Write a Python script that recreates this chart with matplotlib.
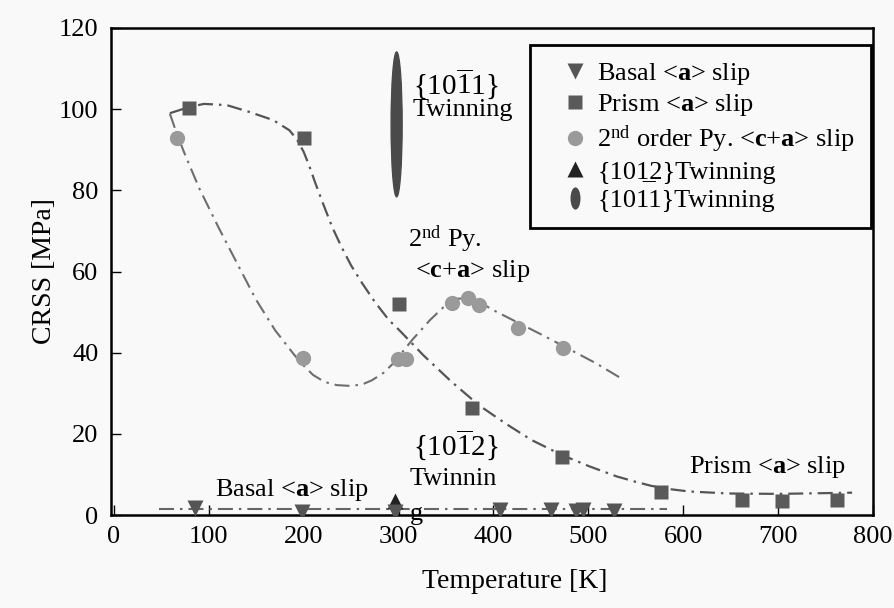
import numpy as np
import matplotlib
matplotlib.use('Agg')
import matplotlib.pyplot as plt
from matplotlib.lines import Line2D
from matplotlib.patches import Ellipse
from matplotlib.path import Path
from matplotlib.transforms import Affine2D

plt.rcParams['font.family'] = ['Liberation Serif', 'DejaVu Serif']
plt.rcParams['mathtext.fontset'] = 'custom'
plt.rcParams['mathtext.rm'] = 'Liberation Serif'
plt.rcParams['mathtext.bf'] = 'Liberation Serif:bold'
plt.rcParams['mathtext.it'] = 'Liberation Serif:italic'
plt.rcParams['lines.scale_dashes'] = False

# ---------------- data ----------------
basal_T = [85, 198, 296, 407, 461, 487, 494, 527]
basal_v = [1.8, 0.8, 0.8, 1.2, 1.2, 1.0, 1.2, 1.0]

prism_T = [79, 200, 300, 377, 472, 577, 662, 704, 762]
prism_v = [100.2, 93.0, 52.0, 26.4, 14.3, 5.7, 3.8, 3.5, 3.6]

pyr_T = [67, 199, 299, 308, 356, 373, 385, 426, 473]
pyr_v = [92.8, 38.7, 38.4, 38.4, 52.2, 53.4, 51.7, 46.0, 41.1]

twin1012_T = [296]
twin1012_v = [3.5]

twin1011_T = 298
twin1011_lo = 78.4
twin1011_hi = 114.1

# trend curves
prism_fit_T = [59, 79, 95, 119, 143, 168, 185, 193, 200, 206, 212, 220, 230, 240, 250, 262,
               275, 290, 301, 326, 356, 385, 413, 440, 472, 501, 530, 548, 566, 585, 606,
               648, 700, 778]
prism_fit_v = [99, 100.5, 101.3, 101, 99.3, 97.3, 94.8, 92.5, 89.5, 86, 82, 77, 71, 66, 61.5,
               57, 52.5, 48, 45.5, 39.4, 32.8, 27, 22.5, 18.5, 14.8, 12, 9.5, 8.3, 7.2, 6.4,
               5.8, 5.3, 5.2, 5.5]

pyr_fit_T = [59, 67, 75, 90, 110, 131, 150, 170, 190, 200, 210, 222, 235, 250, 262, 272,
             284, 295, 315, 333, 350, 362, 375, 390, 403, 452, 508, 533]
pyr_fit_v = [98.9, 93.5, 88.8, 80.5, 71, 61.5, 53, 45.5, 39.5, 36.8, 34.5, 32.8, 32, 31.8,
             32.2, 33.2, 35, 37.5, 43.3, 48, 51.8, 53.3, 53.4, 51.8, 50.1, 44.3, 37.4, 33.9]

basal_fit_T = [48, 583]
basal_fit_v = [1.5, 1.5]

x_ticks = [0, 100, 200, 300, 400, 500, 600, 700, 800]
y_ticks = [0, 20, 40, 60, 80, 100, 120]

# ---------------- figure ----------------
BG = '#f9f9f9'
fig = plt.figure(figsize=(8.95, 6.08), dpi=100, facecolor=BG)
ax = fig.add_axes([111/895, 1-515/608, (873-111)/895, (515-28)/608])
ax.set_facecolor(BG)

dash = (0, (10.8, 4.3, 1.8, 4.3))
ax.plot(prism_fit_T, prism_fit_v, color='#555555', lw=1.6, ls=dash, zorder=2)
ax.plot(pyr_fit_T, pyr_fit_v, color='#6e6e6e', lw=1.5, ls=dash, zorder=2)
ax.plot(basal_fit_T, basal_fit_v, color='#666666', lw=1.5, ls=dash, zorder=2)

ax.plot(pyr_T, pyr_v, 'o', color='#9a9a9a', ms=11, mec='none', zorder=3)
ax.plot(prism_T, prism_v, 's', color='#5a5a5a', ms=10, mec='none', zorder=3)
ax.plot(twin1012_T, twin1012_v, '^', color='#222222', ms=11, mec='none', zorder=3)
ax.plot(basal_T, basal_v, 'v', color='#555555', ms=11, mec='none', zorder=4)

ell = Ellipse((twin1011_T, (twin1011_lo + twin1011_hi) / 2), width=11.6,
              height=twin1011_hi - twin1011_lo, color='#4a4a4a', zorder=3)
ax.add_patch(ell)

ax.set_xlim(-3, 800)
ax.set_ylim(0, 120)
ax.set_xticks(x_ticks)
ax.set_yticks(y_ticks)
ax.tick_params(direction='in', length=7, width=1, labelsize=19, pad=8)
ax.tick_params(axis='y', pad=9)
for s in ax.spines.values():
    s.set_linewidth(1.8)
    s.set_color('black')

ax.set_xlabel('Temperature [K]', fontsize=20)
ax.xaxis.set_label_coords((515 - 111) / 762, (515 - 569) / 487)
ax.set_ylabel('CRSS [MPa]', fontsize=20)
ax.yaxis.set_label_coords((57 - 111) / 762, 0.5)

fs = 19
ax.text(315, 103.8, r'$\{10\overline{1}1\}$', fontsize=21, va='baseline', ha='left')
ax.text(315, 98.3, 'Twinning', fontsize=fs, va='baseline', ha='left')
ax.text(309.5, 66.1, r'2$^{\mathrm{nd}}$ Py.', fontsize=fs, va='baseline', ha='left')
ax.text(317, 58.7, r'<$\mathbf{c}$+$\mathbf{a}$> slip', fontsize=fs, va='baseline', ha='left')
ax.text(315, 14.8, r'$\{10\overline{1}2\}$', fontsize=21, va='baseline', ha='left')
ax.text(311.6, 7.4, 'Twinnin', fontsize=fs, va='baseline', ha='left')
ax.text(311.6, -1.2, 'g', fontsize=fs, va='baseline', ha='left', zorder=5)
ax.text(106.3, 4.7, r'Basal <$\mathbf{a}$> slip', fontsize=fs, va='baseline', ha='left')
ax.text(605.6, 10.3, r'Prism <$\mathbf{a}$> slip', fontsize=fs, va='baseline', ha='left')

# legend
ell_path = Path.unit_circle().transformed(Affine2D().scale(0.45, 1.0))
handles = [
    Line2D([], [], ls='none', marker='v', color='#555555', ms=12, mec='none'),
    Line2D([], [], ls='none', marker='s', color='#5a5a5a', ms=10, mec='none'),
    Line2D([], [], ls='none', marker='o', color='#9a9a9a', ms=11, mec='none'),
    Line2D([], [], ls='none', marker='^', color='#222222', ms=12, mec='none'),
    Line2D([], [], ls='none', marker=ell_path, color='#4a4a4a', ms=16, mec='none'),
]
labels = [
    r'Basal <$\mathbf{a}$> slip',
    r'Prism <$\mathbf{a}$> slip',
    r'2$^{\mathrm{nd}}$ order Py. <$\mathbf{c}$+$\mathbf{a}$> slip',
    '{101\u03322}Twinning',
    '{1011}Twinning',
]
leg = ax.legend(handles, labels, loc='upper left', bbox_to_anchor=(0.55, 0.965),
                fontsize=fs, frameon=True, fancybox=False, edgecolor='black',
                facecolor=BG, framealpha=1, borderpad=0.6, handlelength=2.2,
                handletextpad=-0.25, labelspacing=0.2, borderaxespad=0)
leg.get_frame().set_linewidth(2.0)

fig.savefig('out.png', dpi=100, facecolor=BG)
